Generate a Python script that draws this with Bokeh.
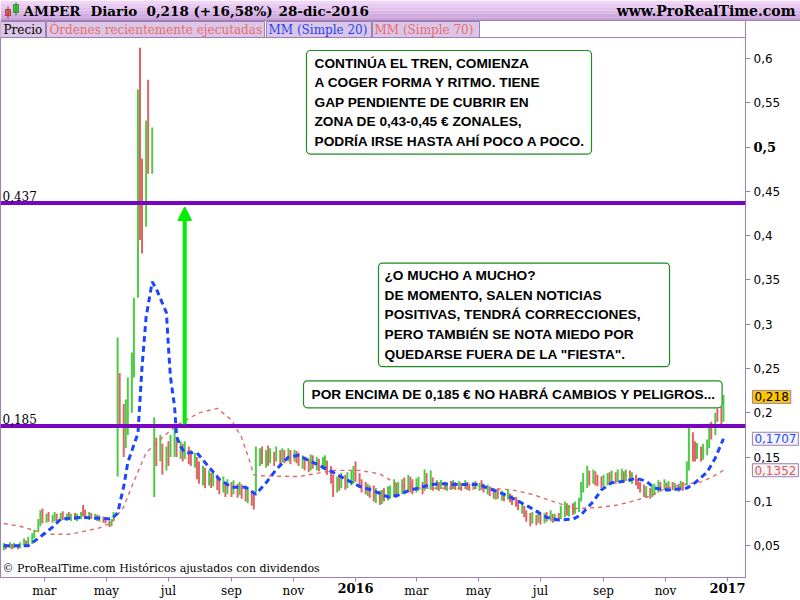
import pandas as pd
from bokeh.plotting import figure
from bokeh.models import (Range1d, ColumnDataSource, Span, Label, Arrow, NormalHead,
                          FixedTicker, CustomJSTickFormatter)
from bokeh.layouts import column
from bokeh.embed import file_html
from bokeh.resources import INLINE
from bokeh.core.properties import value

# ---------------- data ----------------
first_session = "2015-01-19"
last_session = "2016-12-28"

lows = [
    0.045, 0.046, 0.047, 0.046, 0.047, 0.046, 0.047, 0.050, 0.049, 0.051,
    0.052, 0.058, 0.066, 0.072, 0.075, 0.076, 0.077, 0.076, 0.078, 0.077,
    0.078, 0.079, 0.078, 0.080, 0.078, 0.079, 0.078, 0.080, 0.083, 0.080,
    0.079, 0.080, 0.079, 0.078, 0.077, 0.076, 0.075, 0.071, 0.072, 0.078,
    0.128, 0.185, 0.150, 0.160, 0.175, 0.200, 0.240, 0.330, 0.395, 0.380,
    0.410, 0.470, 0.470, 0.105, 0.140, 0.145, 0.130, 0.135, 0.140, 0.150,
    0.150, 0.150, 0.148, 0.145, 0.148, 0.142, 0.140, 0.138, 0.125, 0.120,
    0.118, 0.115, 0.118, 0.115, 0.117, 0.113, 0.108, 0.110, 0.105, 0.108,
    0.105, 0.108, 0.104, 0.107, 0.103, 0.100, 0.098, 0.095, 0.091, 0.110,
    0.140, 0.142, 0.138, 0.140, 0.143, 0.140, 0.145, 0.142, 0.144, 0.143,
    0.145, 0.142, 0.145, 0.143, 0.140, 0.137, 0.135, 0.133, 0.135, 0.137,
    0.135, 0.134, 0.136, 0.135, 0.130, 0.120, 0.105, 0.110, 0.112, 0.115,
    0.113, 0.115, 0.118, 0.120, 0.122, 0.115, 0.110, 0.108, 0.106, 0.104,
    0.100, 0.098, 0.096, 0.097, 0.100, 0.101, 0.103, 0.105, 0.104, 0.106,
    0.108, 0.110, 0.112, 0.110, 0.108, 0.110, 0.112, 0.108, 0.112, 0.115,
    0.113, 0.112, 0.113, 0.112, 0.114, 0.113, 0.112, 0.113, 0.114, 0.113,
    0.113, 0.112, 0.114, 0.113, 0.112, 0.113, 0.114, 0.112, 0.113, 0.110,
    0.108, 0.106, 0.103, 0.102, 0.103, 0.101, 0.100, 0.102, 0.099, 0.096,
    0.094, 0.090, 0.086, 0.082, 0.077, 0.072, 0.075, 0.073, 0.076, 0.074,
    0.075, 0.077, 0.078, 0.076, 0.077, 0.078, 0.080, 0.082, 0.084, 0.083,
    0.085, 0.086, 0.088, 0.100, 0.110, 0.115, 0.118, 0.120, 0.118, 0.117,
    0.115, 0.117, 0.118, 0.120, 0.122, 0.120, 0.122, 0.124, 0.122, 0.123,
    0.122, 0.120, 0.118, 0.114, 0.110, 0.105, 0.104, 0.103, 0.105, 0.107,
    0.110, 0.112, 0.113, 0.111, 0.112, 0.113, 0.112, 0.111, 0.113, 0.112,
    0.118, 0.135, 0.145, 0.145, 0.148, 0.145, 0.147, 0.152, 0.160, 0.170,
    0.175, 0.190, 0.187, 0.190,
]
highs = [
    0.053, 0.052, 0.054, 0.052, 0.053, 0.051, 0.054, 0.058, 0.056, 0.060,
    0.064, 0.068, 0.080, 0.090, 0.092, 0.086, 0.088, 0.085, 0.088, 0.086,
    0.087, 0.089, 0.086, 0.088, 0.086, 0.087, 0.086, 0.088, 0.096, 0.091,
    0.088, 0.087, 0.086, 0.085, 0.084, 0.083, 0.082, 0.078, 0.080, 0.088,
    0.285, 0.245, 0.210, 0.215, 0.240, 0.268, 0.330, 0.565, 0.612, 0.487,
    0.530, 0.576, 0.522, 0.195, 0.172, 0.175, 0.165, 0.162, 0.168, 0.175,
    0.185, 0.172, 0.168, 0.165, 0.168, 0.162, 0.158, 0.155, 0.150, 0.145,
    0.140, 0.138, 0.135, 0.132, 0.134, 0.130, 0.125, 0.128, 0.122, 0.125,
    0.122, 0.124, 0.120, 0.122, 0.119, 0.116, 0.115, 0.112, 0.108, 0.162,
    0.160, 0.162, 0.158, 0.163, 0.160, 0.156, 0.162, 0.158, 0.160, 0.158,
    0.160, 0.158, 0.158, 0.157, 0.155, 0.152, 0.150, 0.148, 0.153, 0.152,
    0.150, 0.148, 0.150, 0.152, 0.146, 0.140, 0.130, 0.128, 0.130, 0.132,
    0.130, 0.133, 0.135, 0.140, 0.145, 0.132, 0.125, 0.122, 0.120, 0.118,
    0.118, 0.115, 0.112, 0.113, 0.115, 0.117, 0.118, 0.125, 0.120, 0.122,
    0.125, 0.127, 0.130, 0.128, 0.125, 0.126, 0.128, 0.122, 0.136, 0.132,
    0.135, 0.127, 0.124, 0.122, 0.124, 0.122, 0.121, 0.123, 0.124, 0.122,
    0.123, 0.121, 0.124, 0.122, 0.120, 0.122, 0.123, 0.121, 0.124, 0.120,
    0.119, 0.117, 0.115, 0.113, 0.114, 0.112, 0.110, 0.113, 0.109, 0.107,
    0.105, 0.102, 0.098, 0.095, 0.090, 0.087, 0.088, 0.085, 0.090, 0.086,
    0.087, 0.088, 0.090, 0.086, 0.086, 0.087, 0.095, 0.100, 0.098, 0.096,
    0.098, 0.100, 0.104, 0.122, 0.132, 0.140, 0.135, 0.136, 0.134, 0.130,
    0.128, 0.130, 0.132, 0.133, 0.135, 0.133, 0.136, 0.137, 0.134, 0.136,
    0.135, 0.133, 0.130, 0.126, 0.122, 0.119, 0.117, 0.115, 0.118, 0.120,
    0.124, 0.122, 0.125, 0.121, 0.123, 0.122, 0.121, 0.120, 0.123, 0.122,
    0.145, 0.185, 0.178, 0.168, 0.166, 0.162, 0.165, 0.170, 0.188, 0.190,
    0.200, 0.205, 0.207, 0.220,
]
ups = [
    1, 0, 1, 0, 1, 0, 1, 1, 0, 1,
    1, 1, 1, 1, 0, 1, 0, 1, 1, 0,
    1, 0, 1, 0, 1, 0, 1, 1, 0, 0,
    1, 0, 1, 0, 1, 0, 0, 0, 1, 1,
    1, 0, 0, 1, 1, 1, 1, 1, 0, 0,
    1, 0, 1, 1, 0, 1, 0, 1, 0, 1,
    1, 0, 1, 0, 1, 0, 0, 1, 0, 0,
    1, 0, 1, 0, 1, 0, 0, 1, 0, 1,
    0, 1, 0, 1, 0, 0, 1, 0, 0, 1,
    1, 0, 1, 0, 1, 0, 1, 0, 1, 0,
    1, 0, 1, 0, 0, 1, 0, 0, 1, 0,
    1, 0, 1, 1, 0, 0, 0, 1, 0, 1,
    0, 1, 1, 1, 0, 0, 0, 0, 1, 0,
    0, 1, 0, 1, 0, 1, 1, 1, 0, 1,
    1, 0, 1, 0, 0, 1, 1, 0, 1, 0,
    1, 0, 1, 0, 1, 0, 1, 0, 1, 0,
    1, 0, 1, 0, 0, 1, 0, 1, 0, 0,
    1, 0, 0, 1, 0, 1, 0, 1, 0, 0,
    0, 0, 1, 0, 0, 0, 1, 0, 1, 0,
    1, 0, 1, 0, 1, 0, 1, 1, 0, 1,
    0, 1, 1, 1, 1, 1, 0, 1, 0, 0,
    0, 1, 1, 0, 1, 0, 1, 1, 0, 1,
    0, 1, 0, 0, 0, 0, 1, 0, 1, 1,
    1, 0, 1, 0, 1, 0, 1, 0, 1, 0,
    1, 1, 0, 0, 1, 0, 1, 1, 1, 0,
    1, 0, 0, 1,
]

# moving averages, read at selected sessions (index into the session list)
ma20_idx = [0, 9, 13, 17, 20, 28, 34, 38, 40, 42, 44, 47, 49, 50, 52, 54, 57, 58, 59, 60,
            61, 62, 64, 68, 71, 76, 80, 85, 89, 92, 96, 100, 104, 109, 115, 121, 125, 130,
            135, 139, 143, 146, 150, 154, 159, 167, 170, 174, 179, 185, 191, 195, 200, 203,
            207, 210, 214, 219, 222, 226, 229, 234, 240, 243, 247, 250, 253]
ma20_val = [0.050, 0.050, 0.060, 0.071, 0.080, 0.082, 0.081, 0.080, 0.087, 0.117, 0.144,
            0.177, 0.252, 0.308, 0.348, 0.340, 0.313, 0.274, 0.240, 0.207, 0.173, 0.162,
            0.155, 0.155, 0.144, 0.125, 0.116, 0.116, 0.108, 0.121, 0.136, 0.150, 0.152,
            0.144, 0.134, 0.124, 0.117, 0.112, 0.105, 0.107, 0.113, 0.115, 0.119, 0.120,
            0.119, 0.119, 0.115, 0.111, 0.104, 0.093, 0.082, 0.079, 0.080, 0.085, 0.100,
            0.113, 0.121, 0.123, 0.126, 0.123, 0.115, 0.113, 0.115, 0.121, 0.133, 0.149,
            0.1707]
ma70_idx = [0, 6, 15, 24, 34, 38, 42, 45, 50, 55, 61, 69, 75, 80, 84, 86, 88, 90, 104, 116,
            125, 132, 139, 146, 170, 179, 186, 193, 201, 209, 216, 221, 227, 233, 239, 245,
            249, 253]
ma70_val = [0.075, 0.072, 0.063, 0.063, 0.070, 0.076, 0.094, 0.117, 0.155, 0.170, 0.186,
            0.200, 0.205, 0.192, 0.172, 0.152, 0.130, 0.129, 0.128, 0.135, 0.135, 0.131,
            0.119, 0.115, 0.115, 0.113, 0.108, 0.100, 0.092, 0.093, 0.096, 0.100, 0.106,
            0.115, 0.119, 0.122, 0.127, 0.1352]

resistance = 0.437
support = 0.185
last_close = 0.218
last_ma20 = 0.1707
last_ma70 = 0.1352
arrow_date = "2015-07-17"
arrow_from, arrow_to = 0.187, 0.432

y_ticks = [0.05, 0.1, 0.15, 0.2, 0.25, 0.3, 0.35, 0.4, 0.45, 0.5, 0.55, 0.6]
y_bold_tick = 0.5
x_tick_dates = ["2015-03-01", "2015-05-01", "2015-07-01", "2015-09-01", "2015-11-01",
                "2016-01-01", "2016-03-01", "2016-05-01", "2016-07-01", "2016-09-01",
                "2016-11-01", "2017-01-01"]
x_tick_labels = ["mar", "may", "jul", "sep", "nov", "2016",
                 "mar", "may", "jul", "sep", "nov", "2017"]
x_year_dates = ["2016-01-01", "2017-01-01"]
x_year_labels = ["2016", "2017"]

note1 = ("CONTINÚA EL TREN, COMIENZA\nA COGER FORMA Y RITMO. TIENE\n"
         "GAP PENDIENTE DE CUBRIR EN\nZONA DE 0,43-0,45 € ZONALES,\n"
         "PODRÍA IRSE HASTA AHÍ POCO A POCO.")
note2 = ("¿O MUCHO A MUCHO?\nDE MOMENTO, SALEN NOTICIAS\nPOSITIVAS, TENDRÁ CORRECCIONES,\n"
         "PERO TAMBIÉN SE NOTA MIEDO POR\nQUEDARSE FUERA DE LA \"FIESTA\".")
note3 = "POR ENCIMA DE 0,185 € NO HABRÁ CAMBIOS Y PELIGROS..."

# ---------------- styling ----------------
W = 800
HEAD_H = 37
MAIN_H = 563
AX_W = 55
UP = "#4ccc44"
DN = "#e06464"
FRAME = "#9c80b4"
PURPLE = "#7a05c0"
X_START = pd.Timestamp("2015-01-16 18:00")
X_END = pd.Timestamp("2017-01-18 17:00")
Y_START, Y_END = 0.0141, 0.6237

sessions = pd.bdate_range(first_session, last_session)
dates = list(sessions[::-1][::2][::-1])[-len(lows):]

# ---------------- header ----------------
h = figure(width=W, height=HEAD_H, x_range=Range1d(0, W), y_range=Range1d(HEAD_H, 0),
           toolbar_location=None, output_backend="svg", min_border=0,
           min_border_left=0, min_border_right=0, min_border_top=0, min_border_bottom=0,
           x_axis_location=None, y_axis_location=None)
h.grid.visible = False
h.outline_line_color = None
h.background_fill_color = "white"
h.border_fill_color = "white"

bands = ["#f0d5f7", "#e9caf2", "#e1c0ec", "#d9b6e6", "#d1abdf", "#c9a1d8"]
bh = 20.0 / len(bands)
h.quad(left=0, right=W, top=[k * bh for k in range(len(bands))],
       bottom=[(k + 1) * bh for k in range(len(bands))], fill_color=bands, line_color=None)
h.segment(x0=[0], y0=[20], x1=[W], y1=[20], line_color=FRAME, line_width=1)
# candle icon
h.quad(left=[5, 13], right=[10, 18], top=[9, 4], bottom=[15, 12],
       fill_color=[DN, UP], line_color=["#a03030", "#208020"], line_width=0.8)
h.segment(x0=[7.5, 15.5], y0=[6, 2], x1=[7.5, 15.5], y1=[18, 15],
          line_color=["#a03030", "#208020"], line_width=1)
h.text(x=[23, 90, 146, 278], y=[10.5] * 4,
       text=["AMPER", "Diario", "0,218 (+16,58%)", "28-dic-2016"],
       text_font=value("DejaVu Serif"), text_font_style="bold",
       text_font_size="13.5px", text_baseline="middle", text_color="black")
h.text(x=[795], y=[10.5], text=["www.ProRealTime.com"], text_font=value("DejaVu Serif"),
       text_font_style="bold", text_font_size="14px", text_baseline="middle",
       text_align="right", text_color="black")
tab_l = [0, 46, 266, 372]
tab_r = [45, 264, 371, 479]
h.quad(left=tab_l, right=tab_r, top=21, bottom=37, fill_color="#dcc6e7",
       line_color=FRAME, line_width=1)
h.text(x=[3, 49, 268, 374], y=[29.5] * 4,
       text=["Precio", "Órdenes recientemente ejecutadas", "MM (Simple 20)", "MM (Simple 70)"],
       text_color=["black", "#e86c6c", "#2244ee", "#e86c6c"],
       text_font=value("DejaVu Serif"), text_font_size="12px", text_baseline="middle")
h.segment(x0=[W - AX_W], y0=[20], x1=[W - AX_W], y1=[37], line_color=FRAME, line_width=1)

# ---------------- main chart ----------------
p = figure(width=W, height=MAIN_H, x_axis_type="datetime",
           x_range=Range1d(X_START, X_END),
           y_range=Range1d(Y_START, Y_END), y_axis_location="right",
           toolbar_location=None, output_backend="svg",
           min_border_left=0, min_border_right=AX_W, min_border_top=0,
           min_border_bottom=22)
p.grid.visible = False
p.outline_line_color = FRAME
p.background_fill_color = "white"
p.border_fill_color = "white"

for fig in (h, p):
    try:
        fig.frame_align = False
    except Exception:
        pass

src = ColumnDataSource(dict(d=dates, lo=lows, hi=highs,
                            col=[UP if u else DN for u in ups]))
p.segment(x0="d", y0="lo", x1="d", y1="hi", line_color="col", line_width=2, source=src)

p.line([dates[i] for i in ma70_idx], ma70_val, line_color="#e06a6a", line_width=1.4,
       line_dash="4 4")
p.line([dates[i] for i in ma20_idx], ma20_val, line_color="#1a46ff", line_width=3,
       line_dash="6 4")

for lvl in (resistance, support):
    p.add_layout(Span(location=lvl, dimension="width", line_color=PURPLE, line_width=4))
    p.add_layout(Label(x=2, y=lvl, x_units="screen", y_offset=2,
                       text=f"{lvl:.3f}".replace(".", ","), text_font="DejaVu Serif",
                       text_font_size="12px", text_baseline="bottom", text_color="black"))

p.add_layout(Arrow(end=NormalHead(size=13, fill_color="#00ee00", line_color="#00ee00",
                                  line_width=1.5),
                   x_start=pd.Timestamp(arrow_date), y_start=arrow_from,
                   x_end=pd.Timestamp(arrow_date), y_end=arrow_to,
                   line_color="#00ee00", line_width=4))

box_style = dict(x_units="screen", y_units="data", text_font="Liberation Sans",
                 text_font_style="bold", text_font_size="13.7px", text_color="black",
                 text_baseline="top", text_align="left", background_fill_color="white",
                 border_line_color="#1e8c1e", border_line_width=1.2, border_radius=4)


def note(x, y, text, pad, fallback_pad, **kw):
    try:
        lab = Label(x=x, y=y, text=text, padding=pad, **kw, **box_style)
    except Exception:
        lab = Label(x=x, y=y, text=text, padding=fallback_pad, **kw, **box_style)
    p.add_layout(lab)


note(306, 0.6090, note1, dict(left=8, right=5, top=5, bottom=5), 6, text_line_height=1.31)
note(378, 0.3690, note2, dict(left=6, right=29, top=5, bottom=5), 6, text_line_height=1.31)
note(303, 0.2361, note3, dict(left=8, right=6, top=6, bottom=6), 6)

p.add_layout(Label(x=2, y=0.0165, x_units="screen",
                   text="© ProRealTime.com  Históricos ajustados con dividendos",
                   text_font="DejaVu Serif", text_font_size="11px", text_baseline="bottom",
                   text_color="black"))

# price tags over the price axis (overlay level so they are not clipped to the frame)
tag_x = X_END - pd.Timedelta(hours=2)
tag_vals = [last_close, last_ma20, last_ma70]
tag_txt = [f"{last_close:.3f}".replace(".", ","), f"{last_ma20:.4f}".replace(".", ","),
           f"{last_ma70:.4f}".replace(".", ",")]
tag_col = ["black", "#1e50ff", "#e05a5a"]
tag_bg = ["#fcc700", "#f5f3f8", "#f5f3f8"]
try:
    p.text(x=[tag_x] * 3, y=tag_vals, text=tag_txt, text_color=tag_col,
           text_font=value("DejaVu Sans"), text_font_size="12px", text_baseline="middle",
           x_offset=7, background_fill_color=tag_bg, border_line_color=FRAME,
           padding=2, level="overlay")
except Exception:
    p.text(x=[tag_x] * 3, y=tag_vals, text=tag_txt, text_color=tag_col,
           text_font=value("DejaVu Sans"), text_font_size="12px", text_baseline="middle",
           x_offset=7, level="overlay")

# bold labels (0,5 and the years) drawn at the tick positions
p.text(x=[tag_x], y=[y_bold_tick], text=[f"{y_bold_tick:.1f}".replace(".", ",")],
       text_font=value("DejaVu Serif"), text_font_style="bold", text_font_size="13px",
       text_baseline="middle", x_offset=8, text_color="black", level="overlay")
p.text(x=[pd.Timestamp(d) for d in x_year_dates], y=[Y_START] * 2, text=x_year_labels,
       text_font=value("DejaVu Serif"), text_font_style="bold", text_font_size="13px",
       text_baseline="top", text_align="center", y_offset=5, text_color="black",
       level="overlay")

# axes
ya = p.yaxis[0]
ya.ticker = FixedTicker(ticks=y_ticks)
ya.formatter = CustomJSTickFormatter(
    args=dict(skip=y_bold_tick),
    code="if (Math.abs(tick - skip) < 1e-9) return ''; "
         "return tick.toFixed(2).replace(/0$/, '').replace('.', ',');")
ya.axis_label = None
ya.axis_line_color = FRAME
ya.major_tick_line_color = FRAME
ya.minor_tick_line_color = None
ya.major_tick_out = 5
ya.major_tick_in = 0
ya.major_label_standoff = 3
ya.major_label_text_font = "DejaVu Sans"
ya.major_label_text_font_size = "12px"
ya.major_label_text_color = "black"

tick_ms = [pd.Timestamp(d).value // 10**6 for d in x_tick_dates]
xa = p.xaxis[0]
xa.ticker = FixedTicker(ticks=tick_ms)
xa.formatter = CustomJSTickFormatter(
    args=dict(tvals=tick_ms, tlabels=x_tick_labels, years=x_year_labels),
    code="""let b = 0;
for (let j = 0; j < tvals.length; j++) {
  if (Math.abs(tvals[j] - tick) < Math.abs(tvals[b] - tick)) b = j;
}
const s = tlabels[b];
return years.includes(s) ? '' : s;""")
xa.axis_label = None
xa.axis_line_color = FRAME
xa.major_tick_line_color = FRAME
xa.minor_tick_line_color = None
xa.major_tick_out = 4
xa.major_tick_in = 0
xa.major_label_standoff = 2
xa.major_label_text_font = "DejaVu Serif"
xa.major_label_text_font_size = "12px"
xa.major_label_text_color = "black"

layout = column(h, p, spacing=0)
open("out.html", "w").write(file_html(layout, INLINE))
